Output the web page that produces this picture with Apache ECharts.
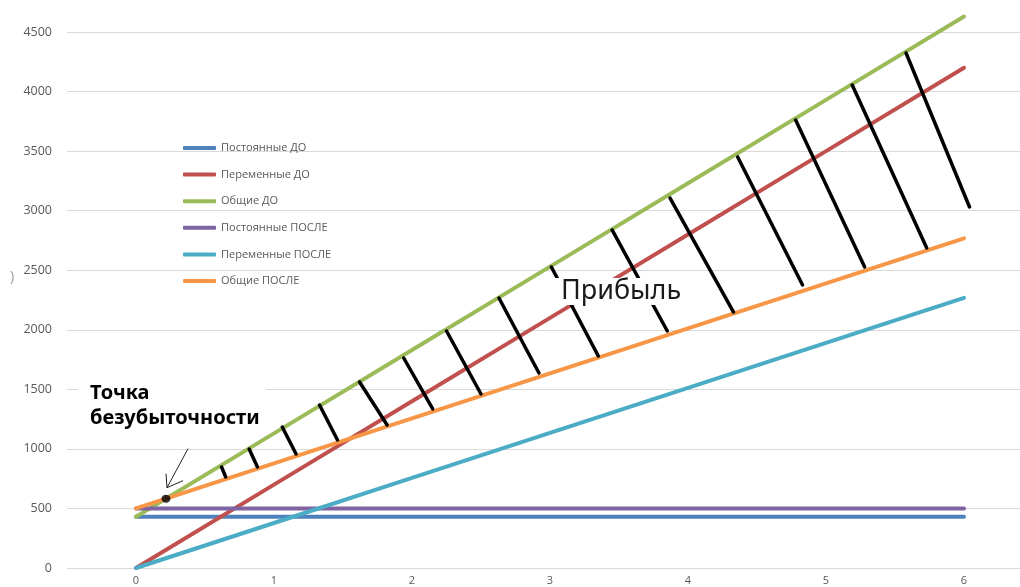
<!DOCTYPE html>
<html>
<head>
<meta charset="utf-8">
<script src="https://cdn.jsdelivr.net/npm/echarts@6/dist/echarts.min.js"></script>
<style>
  html, body { margin: 0; padding: 0; background: #fff; }
  #chart { width: 1020px; height: 587px; }
</style>
</head>
<body>
<div id="chart"></div>
<script>
  // объёмы (ось X)
  var xCats = [0, 1, 2, 3, 4, 5, 6];
  var yTicks = [0, 500, 1000, 1500, 2000, 2500, 3000, 3500, 4000, 4500];

  // затраты ДО
  var fixedBefore = [430, 430, 430, 430, 430, 430, 430];
  var varBefore = [0, 700, 1400, 2100, 2800, 3500, 4200];
  var totalBefore = [430, 1130, 1830, 2530, 3230, 3930, 4630];
  // затраты ПОСЛЕ
  var fixedAfter = [500, 500, 500, 500, 500, 500, 500];
  var varAfter = [0, 378, 756, 1134, 1512, 1890, 2268];
  var totalAfter = [500, 878, 1256, 1634, 2012, 2390, 2768];

  // штриховка "Прибыль" (верх / низ каждого штриха)
  var hatchTop = [[0.62, 848], [0.82, 999], [1.06, 1184], [1.33, 1368], [1.62, 1562],
    [1.94, 1763], [2.25, 1990], [2.63, 2267], [3.01, 2527], [3.45, 2838],
    [3.87, 3106], [4.36, 3451], [4.78, 3761], [5.19, 4055], [5.58, 4324]];
  var hatchBottom = [[0.65, 764], [0.88, 848], [1.16, 957], [1.46, 1075], [1.82, 1201],
    [2.15, 1335], [2.50, 1461], [2.92, 1637], [3.35, 1780], [3.85, 1990],
    [4.33, 2149], [4.83, 2376], [5.28, 2527], [5.73, 2687], [6.04, 3031]];

  var names = ['Постоянные ДО', 'Переменные ДО', 'Общие ДО',
    'Постоянные ПОСЛЕ', 'Переменные ПОСЛЕ', 'Общие ПОСЛЕ'];
  var colors = ['#4F81BD', '#C0504D', '#9BBB59', '#8064A2', '#4BACC6', '#F79646'];
  var values = [fixedBefore, varBefore, totalBefore, fixedAfter, varAfter, totalAfter];

  // точка безубыточности: пересечение "Общие ДО" и "Общие ПОСЛЕ"
  var slopeBefore = varBefore[1] - varBefore[0];
  var slopeAfter = varAfter[1] - varAfter[0];
  var beX = (fixedAfter[0] - fixedBefore[0]) / (slopeBefore - slopeAfter);
  var beY = fixedBefore[0] + slopeBefore * beX;

  var myChart = echarts.init(document.getElementById('chart'));

  var series = names.map(function (n, i) {
    return {
      name: n,
      type: 'line',
      xAxisIndex: 1,
      showSymbol: false,
      symbol: 'none',
      clip: false,
      lineStyle: { color: colors[i], width: 4, cap: 'round' },
      itemStyle: { color: colors[i] },
      data: xCats.map(function (x, k) { return [x, values[i][k]]; }),
      z: 2
    };
  });

  series.push({
    type: 'lines',
    coordinateSystem: 'cartesian2d',
    xAxisIndex: 1,
    polyline: false,
    clip: false,
    lineStyle: { color: '#000', width: 3.5, opacity: 1, curveness: 0, cap: 'round' },
    data: hatchTop.map(function (t, i) { return { coords: [t, hatchBottom[i]] }; }),
    z: 5
  });

  series.push({
    type: 'scatter',
    xAxisIndex: 1,
    symbol: 'circle',
    symbolSize: [9, 8],
    itemStyle: { color: '#000' },
    data: [[beX, beY]],
    z: 6
  });

  var option = {
    animation: false,
    grid: { left: 67, width: 966, top: 32, bottom: 19, outerBoundsMode: 'none', containLabel: false },
    legend: {
      data: names,
      orient: 'vertical',
      left: 183,
      top: 141,
      padding: 0,
      icon: 'roundRect',
      itemWidth: 33,
      itemHeight: 4,
      itemGap: 12.6,
      textStyle: { color: '#595959', fontSize: 11, lineHeight: 14, fontFamily: 'Open Sans' }
    },
    xAxis: [{
      type: 'category',
      data: xCats.map(String),
      boundaryGap: true,
      axisLine: { show: false },
      axisTick: { show: false },
      axisLabel: { color: '#595959', fontSize: 11, margin: 7, fontFamily: 'Open Sans' },
      splitLine: { show: false }
    }, {
      type: 'value',
      min: -0.5,
      max: 6.5,
      show: false
    }],
    yAxis: {
      type: 'value',
      min: yTicks[0],
      max: yTicks[yTicks.length - 1],
      interval: 500,
      axisLine: { show: false },
      axisTick: { show: false },
      axisLabel: {
        color: '#595959', fontSize: 12.5, margin: 15, fontFamily: 'Open Sans',
        formatter: function (v) { return String(v); }
      },
      splitLine: { lineStyle: { color: '#d9d9d9', width: 1 } }
    },
    series: series
  };

  myChart.setOption(option);

  // подписи и стрелка
  var p = myChart.convertToPixel({ xAxisIndex: 1, yAxisIndex: 0 }, [beX, beY]);
  var tip = [p[0] + 1, p[1] - 11];
  myChart.setOption({
    graphic: [
      {
        type: 'text', z: 100, left: 78, top: 379,
        style: {
          text: 'Точка\nбезубыточности', fill: '#000', lineHeight: 25,
          font: 'bold 20px "Noto Sans"', backgroundColor: '#fff', padding: [2, 6, 4, 12]
        }
      },
      {
        type: 'text', z: 100, left: 555, top: 278,
        style: {
          text: 'Прибыль', fill: '#1a1a1a', font: '27px "Noto Sans"',
          backgroundColor: '#fff', padding: [0, 6, 0, 6]
        }
      },
      {
        type: 'text', z: 100, left: 10, top: 270,
        style: { text: ')', fill: '#999', font: '14px "Open Sans"' }
      },
      {
        type: 'polyline', z: 100,
        shape: { points: [[tip[0] + 21, tip[1] - 39], tip] },
        style: { stroke: '#222', lineWidth: 1, fill: null }
      },
      {
        type: 'polyline', z: 100,
        shape: { points: [[tip[0] - 1, tip[1] - 14], tip, [tip[0] + 16, tip[1] - 7]] },
        style: { stroke: '#222', lineWidth: 1, fill: null }
      }
    ]
  });
</script>
</body>
</html>
